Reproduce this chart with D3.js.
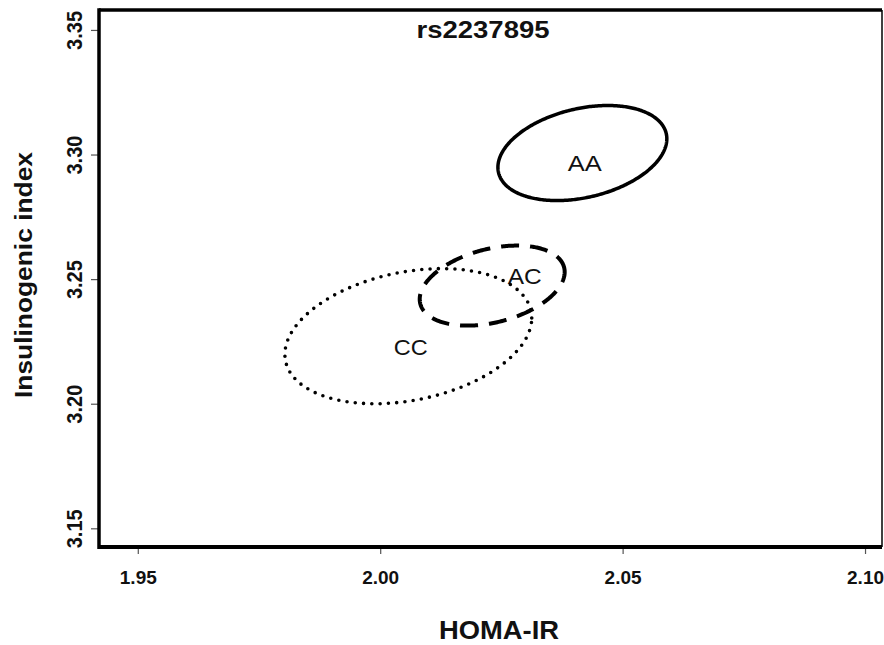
<!DOCTYPE html>
<html>
<head>
<meta charset="utf-8">
<script src="https://cdn.jsdelivr.net/npm/d3@7/dist/d3.min.js"></script>
<style>
  html, body { margin: 0; padding: 0; background: #fff; }
  svg { display: block; }
  text { font-family: "Liberation Sans", Arial, Helvetica, sans-serif; fill: #111; }
</style>
</head>
<body>
<svg id="chart" width="884" height="645"></svg>
<script>
// ---- data ----
const title = "rs2237895";
const xLabel = "HOMA-IR";
const yLabel = "Insulinogenic index";
const xTicks = [1.95, 2.00, 2.05, 2.10];
const yTicks = [3.15, 3.20, 3.25, 3.30, 3.35];
const xDomain = [1.942, 2.1035];
const yDomain = [3.1425, 3.358];

const genotypes = ["AA", "AC", "CC"];
const centerX = [2.0417, 2.0231, 2.0058];   // HOMA-IR
const centerY = [3.3006, 3.2474, 3.2271];   // Insulinogenic index
const spreadX = [0.01742, 0.01495, 0.02546];
const spreadY = [0.01908, 0.01606, 0.02711];
const corr = [0.30, 0.34, 0.27];
const labelX = [2.0422, 2.0298, 2.0063];
const labelY = [3.2964, 3.2512, 3.2227];
const lineStyle = ["solid", "dashed", "dotted"];

// ---- layout ----
const svg = d3.select("#chart");
const x = d3.scaleLinear().domain(xDomain).range([99, 882]);
const y = d3.scaleLinear().domain(yDomain).range([547, 10]);

// axes
const xAxis = svg.append("g").attr("transform", `translate(0,${y(yDomain[0])})`)
  .call(d3.axisBottom(x).tickValues(xTicks).tickSize(7).tickFormat(d3.format(".2f")));
xAxis.select(".domain").remove();
xAxis.selectAll(".tick line").attr("stroke", "#555").attr("stroke-width", 1.2);
xAxis.selectAll(".tick text")
  .attr("y", 37).attr("dy", 0)
  .style("font-size", "19px").style("font-weight", "bold")
  .attr("textLength", 37).attr("lengthAdjust", "spacingAndGlyphs");

const yAxis = svg.append("g").attr("transform", `translate(${x(xDomain[0])},0)`)
  .call(d3.axisLeft(y).tickValues(yTicks).tickSize(8).tickFormat(d3.format(".2f")));
yAxis.select(".domain").remove();
yAxis.selectAll(".tick line").attr("stroke", "#555").attr("stroke-width", 1.2);
yAxis.selectAll(".tick text")
  .attr("x", 0).attr("y", 0).attr("dy", 0)
  .attr("transform", "translate(-17,0) rotate(-90)")
  .attr("text-anchor", "middle")
  .style("font-size", "22px").style("font-weight", "bold")
  .attr("textLength", 39).attr("lengthAdjust", "spacingAndGlyphs");

// frame
const x0 = x(xDomain[0]), x1 = x(xDomain[1]), y0 = y(yDomain[0]), y1 = y(yDomain[1]);
svg.append("line").attr("x1", x0).attr("x2", x1).attr("y1", y1).attr("y2", y1).attr("stroke", "#000").attr("stroke-width", 3.5);
svg.append("line").attr("x1", x0).attr("x2", x1).attr("y1", y0).attr("y2", y0).attr("stroke", "#000").attr("stroke-width", 4);
svg.append("line").attr("x1", x0).attr("x2", x0).attr("y1", y1 - 1.75).attr("y2", y0 + 2).attr("stroke", "#000").attr("stroke-width", 3.5);
svg.append("line").attr("x1", x1).attr("x2", x1).attr("y1", y1).attr("y2", y0).attr("stroke", "#000").attr("stroke-width", 1.5);

// ellipses
const line = d3.line().x(d => x(d[0])).y(d => y(d[1])).curve(d3.curveLinearClosed);
const nPts = 360;
genotypes.forEach((g, i) => {
  const phi = Math.acos(corr[i]);
  const pts = d3.range(nPts).map(k => {
    const t = k / nPts * 2 * Math.PI;
    return [centerX[i] + spreadX[i] * Math.cos(t), centerY[i] + spreadY[i] * Math.cos(t - phi)];
  });
  const p = svg.append("path").attr("d", line(pts))
    .attr("fill", "none").attr("stroke", "#000");
  if (lineStyle[i] === "solid") p.attr("stroke-width", 3.5);
  if (lineStyle[i] === "dashed") p.attr("stroke-width", 4).attr("stroke-dasharray", "18 11");
  if (lineStyle[i] === "dotted") p.attr("stroke-width", 3.6).attr("stroke-linecap", "round").attr("stroke-dasharray", "0 8.3");
  svg.append("text").attr("x", x(labelX[i])).attr("y", y(labelY[i]))
    .attr("text-anchor", "middle").attr("dominant-baseline", "central")
    .style("font-size", "22px")
    .attr("textLength", 34).attr("lengthAdjust", "spacingAndGlyphs")
    .text(g);
});

// titles
svg.append("text").attr("x", 483).attr("y", 38).attr("text-anchor", "middle")
  .style("font-size", "24px").style("font-weight", "bold")
  .attr("textLength", 133).attr("lengthAdjust", "spacingAndGlyphs").text(title);
svg.append("text").attr("x", 499).attr("y", 639).attr("text-anchor", "middle")
  .style("font-size", "26px").style("font-weight", "bold")
  .attr("textLength", 120).attr("lengthAdjust", "spacingAndGlyphs").text(xLabel);
svg.append("text").attr("transform", "translate(32,275) rotate(-90)").attr("text-anchor", "middle")
  .style("font-size", "24px").style("font-weight", "bold")
  .attr("textLength", 246).attr("lengthAdjust", "spacingAndGlyphs").text(yLabel);
</script>
</body>
</html>
